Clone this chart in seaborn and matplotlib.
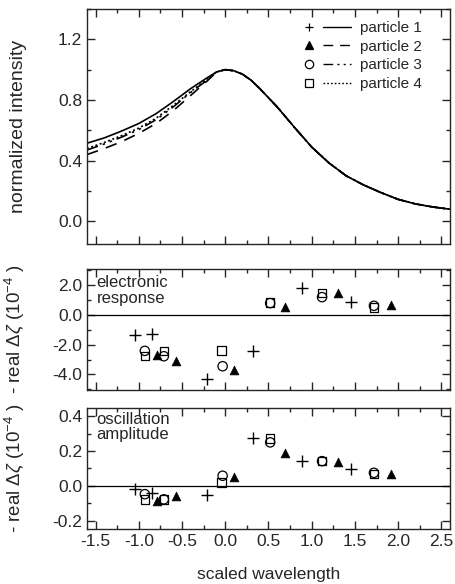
import numpy as np
import pandas as pd
import matplotlib
matplotlib.use("Agg")
import matplotlib.pyplot as plt
import seaborn as sns
from matplotlib.lines import Line2D
from matplotlib.legend_handler import HandlerTuple
from matplotlib.ticker import MultipleLocator

# ---------------- DATA ----------------
particles = ["particle 1", "particle 2", "particle 3", "particle 4"]

# spectra (normalized intensity vs scaled wavelength)
wl = [-1.6, -1.4, -1.2, -1.0, -0.8, -0.6, -0.4, -0.2, -0.1, 0.0, 0.1, 0.2, 0.3,
      0.4, 0.6, 0.8, 1.0, 1.2, 1.4, 1.6, 1.8, 2.0, 2.2, 2.4, 2.6]
right_tail = [0.985, 1.0, 0.993, 0.97, 0.93, 0.875, 0.755, 0.62, 0.49, 0.385,
              0.30, 0.24, 0.19, 0.145, 0.115, 0.095, 0.08]
spec_p1 = [0.515, 0.55, 0.595, 0.645, 0.71, 0.79, 0.875, 0.95] + right_tail
spec_p2 = [0.44, 0.48, 0.525, 0.58, 0.645, 0.73, 0.83, 0.93] + right_tail
spec_p3 = [0.47, 0.51, 0.555, 0.605, 0.67, 0.755, 0.85, 0.935] + right_tail
spec_p4 = [0.48, 0.52, 0.565, 0.615, 0.68, 0.765, 0.855, 0.94] + right_tail

# measurement positions (scaled wavelength)
x_p1 = [-1.04, -0.845, -0.215, 0.32, 0.89, 1.45]
x_p2 = [-0.79, -0.57, 0.105, 0.69, 1.31, 1.92]
x_p3 = [-0.93, -0.71, -0.03, 0.52, 1.12, 1.72]
x_p4 = [-0.93, -0.71, -0.04, 0.52, 1.12, 1.72]

# electronic response, - real dzeta (1e-4)
el_p1 = [-1.38, -1.29, -4.33, -2.45, 1.80, 0.84]
el_p2 = [-2.71, -3.09, -3.71, 0.55, 1.49, 0.67]
el_p3 = [-2.42, -2.78, -3.45, 0.78, 1.18, 0.60]
el_p4 = [-2.75, -2.42, -2.40, 0.82, 1.45, 0.50]

# oscillation amplitude, - real dzeta (1e-4)
os_p1 = [-0.02, -0.04, -0.054, 0.277, 0.142, 0.094]
os_p2 = [-0.086, -0.06, 0.05, 0.19, 0.138, 0.069]
os_p3 = [-0.048, -0.078, 0.058, 0.25, 0.142, 0.075]
os_p4 = [-0.078, -0.078, 0.02, 0.273, 0.144, 0.069]

# ---------------- STYLE ----------------
sns.set_style("ticks")
plt.rcParams["font.family"] = ["Liberation Sans", "DejaVu Sans"]
plt.rcParams["mathtext.fontset"] = "custom"
plt.rcParams["mathtext.rm"] = "Liberation Sans"
plt.rcParams["mathtext.it"] = "Liberation Sans:italic"
plt.rcParams["axes.linewidth"] = 1.0

line_styles = ["-", (0, (7, 5)), (0, (7, 3, 1.5, 3, 1.5, 3)), (0, (1.2, 1.5))]
spectra = [spec_p1, spec_p2, spec_p3, spec_p4]
xs = [x_p1, x_p2, x_p3, x_p4]
el = [el_p1, el_p2, el_p3, el_p4]
osc = [os_p1, os_p2, os_p3, os_p4]
marker_kw = [
    dict(marker="+", s=70, color="k", linewidth=1.0),
    dict(marker="^", s=40, color="k", edgecolor="k", linewidth=0.5),
    dict(marker="o", s=45, facecolor="none", edgecolor="k", linewidth=0.9),
    dict(marker="s", s=38, facecolor="none", edgecolor="k", linewidth=0.9),
]

fig = plt.figure(figsize=(4.55, 5.84), dpi=100)
ax1 = fig.add_axes([0.191, 0.582, 0.798, 0.4026])
ax2 = fig.add_axes([0.191, 0.332, 0.798, 0.207])
ax3 = fig.add_axes([0.191, 0.0937, 0.798, 0.2083])


def style_axis(ax, ymajor, yminor):
    ax.set_xlim(-1.6, 2.6)
    ax.xaxis.set_major_locator(MultipleLocator(0.5))
    ax.xaxis.set_minor_locator(MultipleLocator(0.25))
    ax.yaxis.set_major_locator(MultipleLocator(ymajor))
    ax.yaxis.set_minor_locator(MultipleLocator(yminor))
    ax.tick_params(which="both", direction="in", top=True, right=True,
                   labelsize=12.5, width=1.0)
    ax.tick_params(which="major", length=6)
    ax.tick_params(which="minor", length=3)
    for sp in ax.spines.values():
        sp.set_visible(True)


# --- top: spectra ---
for i, name in enumerate(particles):
    df = pd.DataFrame({"wl": wl, "intensity": spectra[i]})
    sns.lineplot(data=df, x="wl", y="intensity", ax=ax1, color="k",
                 linestyle=line_styles[i], linewidth=1.2, sort=False)
style_axis(ax1, 0.4, 0.2)
ax1.set_ylim(-0.15, 1.4)
ax1.set_xlabel("")
ax1.set_xticklabels([])
ax1.set_ylabel("normalized intensity", fontsize=14)
ax1.yaxis.set_label_coords(-0.165, 0.5)
ax1.yaxis.set_major_formatter(plt.FormatStrFormatter("%.1f"))

handles = []
for i in range(4):
    mk = marker_kw[i]
    m = Line2D([], [], linestyle="none", marker=mk["marker"], markersize=6,
               color="k",
               markerfacecolor="k" if mk["marker"] == "^" else "none",
               markeredgewidth=0.9)
    ln = Line2D([], [], color="k", linestyle=line_styles[i], linewidth=1.0)
    handles.append((m, ln))
ax1.legend(handles, particles, loc="upper right", frameon=False, fontsize=11,
           handler_map={tuple: HandlerTuple(ndivide=None, pad=0.0)},
           handlelength=3.6, handletextpad=0.6, labelspacing=0.3,
           borderaxespad=0.0, bbox_to_anchor=(0.939, 0.974))

# --- middle: electronic response ---
for i in range(4):
    df = pd.DataFrame({"x": xs[i], "y": el[i]})
    sns.scatterplot(data=df, x="x", y="y", ax=ax2, **marker_kw[i])
ax2.axhline(0, color="k", linewidth=0.9)
style_axis(ax2, 2.0, 1.0)
ax2.set_ylim(-5.05, 3.05)
ax2.set_xlabel("")
ax2.set_xticklabels([])
ax2.yaxis.set_major_formatter(plt.FormatStrFormatter("%.1f"))
ax2.set_ylabel(r"- real $\Delta\zeta$ (10$^{-4}$ )", fontsize=13.5)
ax2.yaxis.set_label_coords(-0.165, 0.5)
ax2.text(0.027, 0.95, "electronic\nresponse", transform=ax2.transAxes,
         ha="left", va="top", fontsize=12, linespacing=1.05)

# --- bottom: oscillation amplitude ---
for i in range(4):
    df = pd.DataFrame({"x": xs[i], "y": osc[i]})
    sns.scatterplot(data=df, x="x", y="y", ax=ax3, **marker_kw[i])
ax3.axhline(0, color="k", linewidth=0.9)
style_axis(ax3, 0.2, 0.1)
ax3.set_ylim(-0.25, 0.45)
ax3.xaxis.set_major_formatter(plt.FormatStrFormatter("%.1f"))
ax3.yaxis.set_major_formatter(plt.FormatStrFormatter("%.1f"))
ax3.set_ylabel(r"- real $\Delta\zeta$ (10$^{-4}$ )", fontsize=13.5)
ax3.yaxis.set_label_coords(-0.165, 0.5)
ax3.set_xlabel("scaled wavelength", fontsize=12.5, labelpad=13)
ax3.text(0.027, 0.965, "oscillation\namplitude", transform=ax3.transAxes,
         ha="left", va="top", fontsize=12, linespacing=1.05)

fig.savefig("out.png", dpi=100)
